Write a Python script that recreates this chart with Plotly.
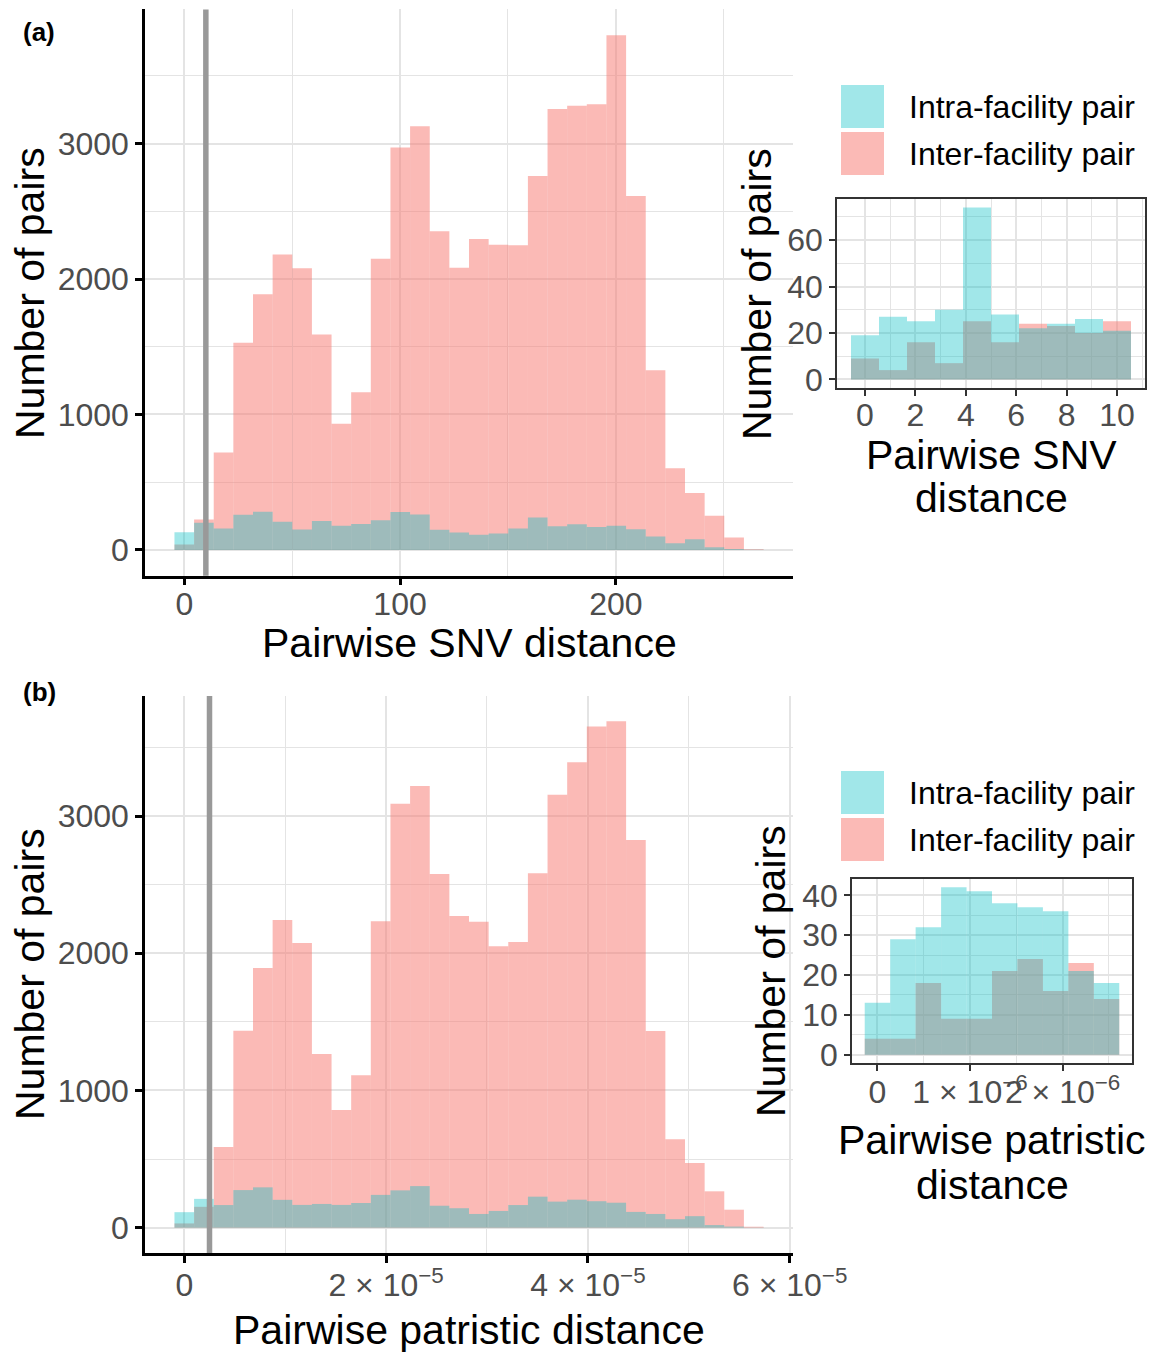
import plotly.graph_objects as go

W, H = 1154, 1352

# ---- (a) pairwise SNV distance, 30 bins ----
SNV_BIN_WIDTH = 9.1
snv_inter = [40, 225, 720, 1530, 1887, 2180, 2080, 1591, 932, 1165,
             2150, 2970, 3127, 2352, 2083, 2295, 2252, 2249, 2760, 3255,
             3278, 3290, 3800, 2612, 1327, 604, 420, 252, 92, 6]
snv_intra = [130, 200, 158, 260, 282, 208, 151, 214, 178, 192,
             220, 280, 262, 150, 128, 112, 122, 159, 240, 175,
             190, 170, 178, 152, 100, 50, 79, 20, 7, 1]
SNV_THRESHOLD = 10
snv_ticks = [0, 100, 200]

# inset: pairs at or below the SNV threshold, 10 bins
SNV_LOW_BIN_WIDTH = 10 / 9
snv_low_inter = [9, 4, 16, 7, 25, 16, 24, 23, 20, 25]
snv_low_intra = [19, 27, 25, 30, 74, 28, 22, 24, 26, 21]

# ---- (b) pairwise patristic distance, 30 bins ----
PAT_BIN_WIDTH = 1.946e-6
pat_inter = [31, 152, 588, 1436, 1892, 2242, 2074, 1266, 858, 1110,
             2233, 3089, 3219, 2577, 2272, 2230, 2050, 2082, 2582, 3155,
             3392, 3653, 3690, 2825, 1434, 644, 472, 265, 131, 7]
pat_intra = [113, 210, 165, 274, 294, 203, 166, 173, 166, 180,
             239, 272, 303, 160, 142, 100, 122, 165, 226, 190,
             204, 193, 182, 115, 100, 62, 84, 19, 8, 1]
PAT_THRESHOLD = 2.5e-6
pat_ticks = [0, 2e-5, 4e-5, 6e-5]
pat_ticktext = ["0", "2 × 10<sup>−5</sup>", "4 × 10<sup>−5</sup>", "6 × 10<sup>−5</sup>"]

# inset: pairs below the patristic threshold, 10 bins
PAT_LOW_BIN_WIDTH = 0.275e-6
pat_low_inter = [4, 4, 18, 9, 9, 21, 24, 16, 23, 14]
pat_low_intra = [13, 29, 32, 42, 41, 38, 37, 36, 21, 18]
pat_low_ticks = [0, 1e-6, 2e-6]
pat_low_ticktext = ["0", "1 × 10<sup>−6</sup>", "2 × 10<sup>−6</sup>"]

GROUPS = ["Intra-facility pair", "Inter-facility pair"]
INTRA_FILL = "rgba(0,191,196,0.37)"
INTER_FILL = "rgba(248,118,109,0.5)"

FONT = "Liberation Sans, Arial, Helvetica, sans-serif"
TICK_COLOR = "#4D4D4D"
GRID = "#E4E4E4"


def centers(n, w):
    return [i * w for i in range(n)]


def x_range(n, w):
    lo, hi = -w / 2, (n - 1) * w + w / 2
    pad = 0.05 * (hi - lo)
    return [lo - pad, hi + pad]


def y_range(*series):
    top = max(max(s) for s in series)
    return [-0.05 * top, top * 1.05]


def xdom(left, right):
    return [left / W, right / W]


def ydom(top, bottom):
    return [1 - bottom / H, 1 - top / H]


fig = go.Figure()

panels = [
    ("x", "y", SNV_BIN_WIDTH, snv_inter, snv_intra),
    ("x2", "y2", SNV_LOW_BIN_WIDTH, snv_low_inter, snv_low_intra),
    ("x3", "y3", PAT_BIN_WIDTH, pat_inter, pat_intra),
    ("x4", "y4", PAT_LOW_BIN_WIDTH, pat_low_inter, pat_low_intra),
]
for xa, ya, w, inter, intra in panels:
    xs = centers(len(inter), w)
    fig.add_trace(go.Bar(x=xs, y=inter, width=w, name=GROUPS[1],
                         marker=dict(color=INTER_FILL, line=dict(width=0)),
                         xaxis=xa, yaxis=ya, showlegend=False))
    fig.add_trace(go.Bar(x=xs, y=intra, width=w, name=GROUPS[0],
                         marker=dict(color=INTRA_FILL, line=dict(width=0)),
                         xaxis=xa, yaxis=ya, showlegend=False))


def main_axis(dom, rng, tickvals, minor_vals, anchor, ticktext=None, standoff=0):
    ax = dict(domain=dom, range=rng, anchor=anchor, automargin=False, showline=True,
              linecolor="black", linewidth=2.5, ticks="outside", ticklen=7, tickwidth=2.5,
              tickcolor="black", tickvals=tickvals, ticklabelstandoff=standoff,
              tickfont=dict(family=FONT, size=32, color=TICK_COLOR),
              showgrid=True, gridcolor=GRID, gridwidth=2.4, zeroline=False, tickangle=0,
              minor=dict(tickvals=minor_vals, showgrid=True, gridcolor=GRID, gridwidth=1.3,
                         ticks=""))
    if ticktext is not None:
        ax["ticktext"] = ticktext
    return ax


def inset_axis(dom, rng, tickvals, minor_vals, anchor, ticktext=None, standoff=0):
    ax = dict(domain=dom, range=rng, anchor=anchor, automargin=False, showline=True,
              mirror=True, linecolor="#333333", linewidth=1.6, ticks="outside", ticklen=6,
              tickwidth=2.2, tickcolor="#333333", tickvals=tickvals,
              ticklabelstandoff=standoff,
              tickfont=dict(family=FONT, size=32, color=TICK_COLOR),
              showgrid=True, gridcolor=GRID, gridwidth=2.2, zeroline=False, tickangle=0,
              minor=dict(tickvals=minor_vals, showgrid=True, gridcolor=GRID, gridwidth=1.2,
                         ticks=""))
    if ticktext is not None:
        ax["ticktext"] = ticktext
    return ax


n_main = len(snv_inter)
n_low = len(snv_low_inter)

fig.update_layout(
    template="none",
    width=W, height=H, margin=dict(l=0, r=0, t=0, b=0, autoexpand=False),
    paper_bgcolor="white", plot_bgcolor="white", barmode="overlay",
    font=dict(family=FONT, color="black"),
    xaxis=main_axis(xdom(145, 793), x_range(n_main, SNV_BIN_WIDTH), snv_ticks,
                    [50, 150, 250], "y", standoff=-9),
    yaxis=main_axis(ydom(9.4, 575.7), y_range(snv_inter, snv_intra), [0, 1000, 2000, 3000],
                    [500, 1500, 2500, 3500], "x"),
    xaxis2=inset_axis(xdom(837, 1145), x_range(n_low, SNV_LOW_BIN_WIDTH),
                      [0, 2, 4, 6, 8, 10], [1, 3, 5, 7, 9, 11], "y2", standoff=-8),
    yaxis2=inset_axis(ydom(199, 388), y_range(snv_low_inter, snv_low_intra),
                      [0, 20, 40, 60], [10, 30, 50, 70], "x2"),
    xaxis3=main_axis(xdom(145, 793), x_range(n_main, PAT_BIN_WIDTH), pat_ticks,
                     [1e-5, 3e-5, 5e-5], "y3", pat_ticktext, standoff=-5),
    yaxis3=main_axis(ydom(696, 1253), y_range(pat_inter, pat_intra), [0, 1000, 2000, 3000],
                     [500, 1500, 2500, 3500], "x3"),
    xaxis4=inset_axis(xdom(852, 1132), x_range(n_low, PAT_LOW_BIN_WIDTH), pat_low_ticks,
                      [0.5e-6, 1.5e-6, 2.5e-6], "y4", pat_low_ticktext, standoff=-6),
    yaxis4=inset_axis(ydom(879, 1063), y_range(pat_low_inter, pat_low_intra),
                      [0, 10, 20, 30, 40], [5, 15, 25, 35], "x4"),
)

# threshold lines
for xref, yref, thr in [("x", "y", SNV_THRESHOLD), ("x3", "y3", PAT_THRESHOLD)]:
    fig.add_shape(type="line", xref=xref, yref=yref + " domain", x0=thr, x1=thr, y0=0, y1=1,
                  line=dict(color="#999999", width=5.5), layer="above")


def text(x, y, s, size=41, angle=0, xanchor="center", bold=False):
    fig.add_annotation(x=x / W, y=1 - y / H, xref="paper", yref="paper", text=s,
                       showarrow=False, textangle=angle, xanchor=xanchor, yanchor="middle",
                       font=dict(family=FONT, size=size, color="black",
                                 weight="bold" if bold else "normal"))


# panel tags
text(21, 32, "(a)", size=26, xanchor="left", bold=True)
text(21, 692, "(b)", size=26, xanchor="left", bold=True)

# axis titles
text(30, 293, "Number of pairs", angle=-90)
text(469, 643, "Pairwise SNV distance")
text(757, 294, "Number of pairs", angle=-90)
text(991, 455, "Pairwise SNV")
text(991, 498, "distance")

text(30, 974, "Number of pairs", angle=-90)
text(469, 1330, "Pairwise patristic distance")
text(771, 971, "Number of pairs", angle=-90)
text(992, 1140, "Pairwise patristic")
text(992, 1185, "distance")

# legends
for top in (85, 771):
    for i, (label, fill) in enumerate([(GROUPS[0], INTRA_FILL), (GROUPS[1], INTER_FILL)]):
        y0 = top + i * 47
        fig.add_shape(type="rect", xref="paper", yref="paper",
                      x0=841 / W, x1=884 / W, y0=1 - (y0 + 43) / H, y1=1 - y0 / H,
                      fillcolor=fill, line=dict(width=0))
        text(907, y0 + 22, label, size=32, xanchor="left")

fig.write_html("out.html")
